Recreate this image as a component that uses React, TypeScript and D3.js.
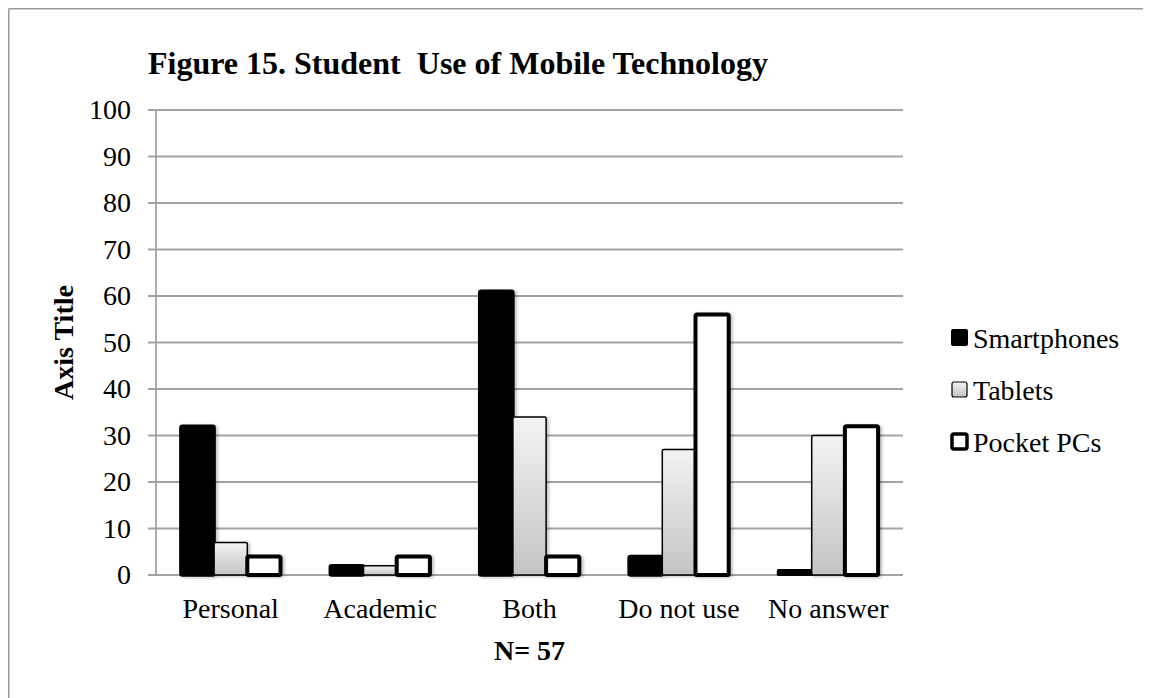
import React from "react";
import * as d3 from "d3";

// Survey categories and the share of students (%) per device
const categories = ["Personal", "Academic", "Both", "Do not use", "No answer"];
const seriesNames = ["Smartphones", "Tablets", "Pocket PCs"];
const smartphones = [32, 2, 61, 4, 1];
const tablets = [7, 2, 34, 27, 30];
const pocketPCs = [4, 4, 4, 56, 32];
const yTicks = [0, 10, 20, 30, 40, 50, 60, 70, 80, 90, 100];

const W = 1151;
const H = 698;
const plot = { left: 156, right: 903, top: 110, bottom: 575 };
const FONT = "'Liberation Serif', 'Times New Roman', serif";

type SeriesStyle = { fill: string; stroke: string; strokeWidth: number };
const styles: SeriesStyle[] = [
  { fill: "#000", stroke: "#000", strokeWidth: 3.5 },
  { fill: "url(#tabletGrad)", stroke: "#000", strokeWidth: 1.5 },
  { fill: "#fff", stroke: "#000", strokeWidth: 4 },
];

export default function App() {
  const values = [smartphones, tablets, pocketPCs];

  const y = d3.scaleLinear().domain([0, 100]).range([plot.bottom, plot.top]);
  const x0 = d3
    .scaleBand<string>()
    .domain(categories)
    .range([plot.left, plot.right])
    .paddingInner(0)
    .paddingOuter(0);
  // Excel-style 150% gap width: bars take 3 / 4.5 of each category band
  const groupW = (x0.bandwidth() * 3) / 4.5;
  const x1 = d3
    .scaleBand<string>()
    .domain(seriesNames)
    .range([0, groupW]);
  const groupOffset = (x0.bandwidth() - groupW) / 2;

  const legendRows = [348, 400, 452];

  return (
    <svg
      width={W - 8}
      height={H - 8}
      style={{ display: "block", background: "#fff" }}
    >
      <defs>
        <linearGradient id="tabletGrad" x1="0" y1="0" x2="0" y2="1">
          <stop offset="0%" stopColor="#f3f3f3" />
          <stop offset="100%" stopColor="#c4c4c4" />
        </linearGradient>
        <filter id="barShadow" x="-20%" y="-10%" width="150%" height="130%">
          <feDropShadow dx="2" dy="1" stdDeviation="1.5" floodColor="#000" floodOpacity="0.25" />
        </filter>
      </defs>
      <g transform="translate(-8,-8)">
        {/* outer frame */}
        <line x1={8.75} y1={8.75} x2={W + 10} y2={8.75} stroke="#9a9a9a" strokeWidth={1.5} />
        <line x1={8.75} y1={8.75} x2={8.75} y2={H + 10} stroke="#9a9a9a" strokeWidth={1.5} />

        {/* title */}
        <text
          x={148}
          y={74}
          fontFamily={FONT}
          fontWeight="bold"
          fontSize={32}
          fill="#000"
          style={{ whiteSpace: "pre" }}
        >
          {"Figure 15. Student  Use of Mobile Technology"}
        </text>

        {/* gridlines and y ticks */}
        {yTicks.map((t) => (
          <g key={t}>
            <line
              x1={plot.left - 8}
              x2={plot.right}
              y1={y(t)}
              y2={y(t)}
              stroke="#a3a3a3"
              strokeWidth={1.8}
            />
            <text
              x={131}
              y={y(t) + 9}
              textAnchor="end"
              fontFamily={FONT}
              fontSize={28}
              fill="#000"
            >
              {t}
            </text>
          </g>
        ))}
        <line
          x1={plot.left}
          x2={plot.left}
          y1={plot.top}
          y2={plot.bottom}
          stroke="#a3a3a3"
          strokeWidth={1.8}
        />

        {/* bars */}
        {categories.map((c, ci) => (
          <g key={c} transform={`translate(${(x0(c) ?? 0) + groupOffset},0)`}>
            {seriesNames.map((s, si) => {
              const v = values[si][ci];
              const st = styles[si];
              return (
                <rect
                  key={s}
                  x={x1(s) ?? 0}
                  y={y(v)}
                  width={x1.bandwidth()}
                  height={y(0) - y(v)}
                  fill={st.fill}
                  stroke={st.stroke}
                  strokeWidth={st.strokeWidth}
                  strokeLinejoin="round"
                  rx={1.5}
                  filter="url(#barShadow)"
                />
              );
            })}
          </g>
        ))}

        {/* category labels */}
        {categories.map((c) => (
          <text
            key={c}
            x={(x0(c) ?? 0) + x0.bandwidth() / 2}
            y={618}
            textAnchor="middle"
            fontFamily={FONT}
            fontSize={28}
            fill="#000"
          >
            {c}
          </text>
        ))}

        {/* axis titles */}
        <text
          x={(plot.left + plot.right) / 2}
          y={660}
          textAnchor="middle"
          fontFamily={FONT}
          fontWeight="bold"
          fontSize={28}
          fill="#000"
        >
          N= 57
        </text>
        <text
          transform={`translate(73,${(plot.top + plot.bottom) / 2}) rotate(-90)`}
          textAnchor="middle"
          fontFamily={FONT}
          fontWeight="bold"
          fontSize={28}
          fill="#000"
        >
          Axis Title
        </text>

        {/* legend */}
        {seriesNames.map((s, si) => {
          const st = styles[si];
          const base = legendRows[si];
          const size = si === 0 ? 17 : 15;
          const inset = si === 0 ? 0 : 1;
          return (
            <g key={s}>
              <rect
                x={951 + inset}
                y={base - 19 + inset}
                width={size}
                height={size}
                rx={2}
                fill={st.fill}
                stroke={st.stroke}
                strokeWidth={si === 0 ? 0 : si === 1 ? 1.2 : 3.5}
              />
              <text x={973} y={base} fontFamily={FONT} fontSize={28} fill="#000">
                {s}
              </text>
            </g>
          );
        })}
      </g>
    </svg>
  );
}
